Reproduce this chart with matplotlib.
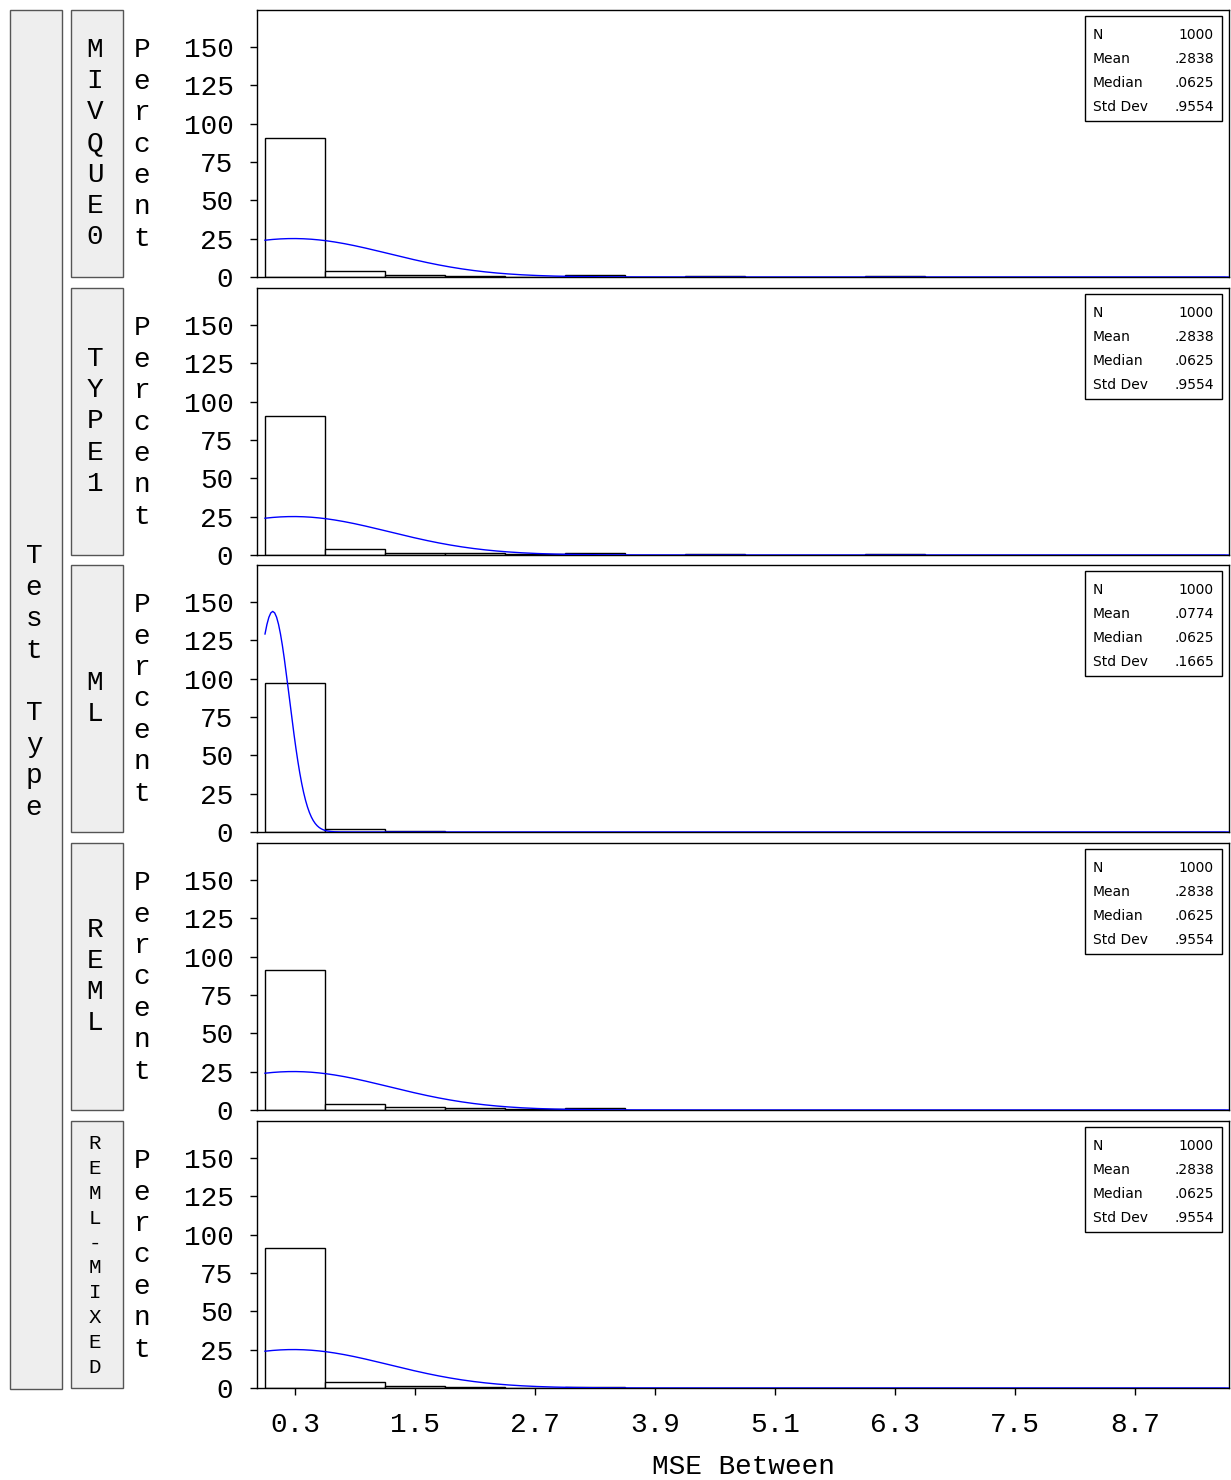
import numpy as np
import matplotlib
matplotlib.use("Agg")
import matplotlib.pyplot as plt
from matplotlib.patches import Rectangle

# Data
test_types = ["MIVQUE0", "TYPE1", "ML", "REML", "REML-MIXED"]
mse_mid = [0.3, 0.9, 1.5, 2.1, 2.7, 3.3, 3.9, 4.5, 5.1, 5.7, 6.3, 6.9, 7.5, 8.1, 8.7, 9.3]

pct_mivque0 = [90.5, 3.9, 1.3, 0.7, 0.2, 1.0, 0.0, 0.4, 0.0, 0.0, 0.4, 0.0, 0.0, 0.0, 0.0, 0.0]
pct_type1 = [90.7, 3.9, 1.3, 1.3, 0.5, 1.0, 0.0, 0.5, 0.0, 0.0, 0.5, 0.0, 0.0, 0.0, 0.0, 0.0]
pct_ml = [97.2, 2.0, 0.5, 0.3, 0.0, 0.0, 0.0, 0.0, 0.0, 0.0, 0.0, 0.0, 0.0, 0.0, 0.0, 0.0]
pct_reml = [91.3, 3.9, 1.8, 1.2, 0.6, 1.2, 0.3, 0.3, 0.3, 0.3, 0.3, 0.3, 0.0, 0.3, 0.3, 0.3]
pct_reml_mixed = [91.3, 4.0, 1.3, 0.7, 0.3, 0.6, 0.1, 0.1, 0.1, 0.1, 0.1, 0.1, 0.1, 0.1, 0.1, 0.1]
percents = [pct_mivque0, pct_type1, pct_ml, pct_reml, pct_reml_mixed]

n_vals = ["1000", "1000", "1000", "1000", "1000"]
mean_vals = [".2838", ".2838", ".0774", ".2838", ".2838"]
median_vals = [".0625", ".0625", ".0625", ".0625", ".0625"]
std_vals = [".9554", ".9554", ".1665", ".9554", ".9554"]

y_ticks = [0, 25, 50, 75, 100, 125, 150]
x_ticks = [0.3, 1.5, 2.7, 3.9, 5.1, 6.3, 7.5, 8.7]

W, H = 1231, 1480
mono = "Liberation Mono"

fig = plt.figure(figsize=(W / 100, H / 100), dpi=100)

def fx(px):
    return px / W

def fy(py):
    return 1 - py / H

panel_tops = [10, 288, 565, 843, 1121]
panel_h = 267
ax_left, ax_right = 257, 1229
bin_w = 0.6

strip_fill = "#eeeeee"
strip_edge = "#555555"

# outer "Test Type" strip
fig.add_artist(Rectangle((fx(10), fy(1389)), fx(52), 1379 / H, transform=fig.transFigure,
                         facecolor=strip_fill, edgecolor=strip_edge, lw=1))
fig.text(fx(34), fy(682), "\n".join("Test Type"), ha="center", va="center",
         family=mono, fontsize=20, linespacing=1.27)

for i, name in enumerate(test_types):
    top = panel_tops[i]
    ax = fig.add_axes([fx(ax_left), fy(top + panel_h), fx(ax_right - ax_left), panel_h / H])

    vals = percents[i]
    ax.bar(mse_mid, vals, width=bin_w, facecolor="white", edgecolor="black", lw=1, zorder=2)

    # fitted normal curve from the shown mean / std dev
    mu = float(mean_vals[i])
    sd = float(std_vals[i])
    xs = np.linspace(0, 9.64, 500)
    dens = 100 * bin_w * np.exp(-0.5 * ((xs - mu) / sd) ** 2) / (sd * np.sqrt(2 * np.pi))
    ax.plot(xs, dens, color="#0000ff", lw=1, zorder=3)

    ax.set_xlim(-0.08, 9.64)
    ax.set_ylim(0, 174)
    ax.set_yticks(y_ticks)
    ax.set_yticklabels([str(v) for v in y_ticks], family=mono, fontsize=20)
    ax.tick_params(axis="y", direction="out", length=5, width=1, pad=12)
    for s in ax.spines.values():
        s.set_linewidth(1)
    if i == len(test_types) - 1:
        ax.set_xticks(x_ticks)
        ax.set_xticklabels([f"{v:.1f}" for v in x_ticks], family=mono, fontsize=20)
        ax.tick_params(axis="x", direction="out", length=5, width=1, pad=12)
        ax.set_xlabel("MSE Between", family=mono, fontsize=20, labelpad=12)
    else:
        ax.set_xticks([])

    # stats box
    ax.add_patch(Rectangle((0.852, 0.584), 0.1408, 0.3935, transform=ax.transAxes,
                           facecolor="white", edgecolor="black", lw=1, zorder=4))
    labels = ["N", "Mean", "Median", "Std Dev"]
    values = [n_vals[i], mean_vals[i], median_vals[i], std_vals[i]]
    for k in range(4):
        yy = 1 - (25 + 24 * k) / panel_h
        ax.text(0.860, yy, labels[k], transform=ax.transAxes, ha="left", va="center",
                fontsize=10, zorder=5)
        ax.text(0.9846, yy, values[k], transform=ax.transAxes, ha="right", va="center",
                fontsize=10, zorder=5)

    # row strip
    fig.add_artist(Rectangle((fx(71), fy(top + panel_h)), fx(52), panel_h / H,
                             transform=fig.transFigure, facecolor=strip_fill,
                             edgecolor=strip_edge, lw=1))
    if name == "REML-MIXED":
        fig.text(fx(95), fy(top + panel_h / 2 + 1), "\n".join(name), ha="center", va="center",
                 family=mono, fontsize=15, linespacing=1.39)
    else:
        fig.text(fx(95), fy(top + panel_h / 2), "\n".join(name), ha="center", va="center",
                 family=mono, fontsize=20, linespacing=1.26)

    # vertical Percent label
    fig.text(fx(142), fy(top + panel_h / 2 + 1), "\n".join("Percent"), ha="center", va="center",
             family=mono, fontsize=20, linespacing=1.27)

fig.savefig("out.png", dpi=100)
